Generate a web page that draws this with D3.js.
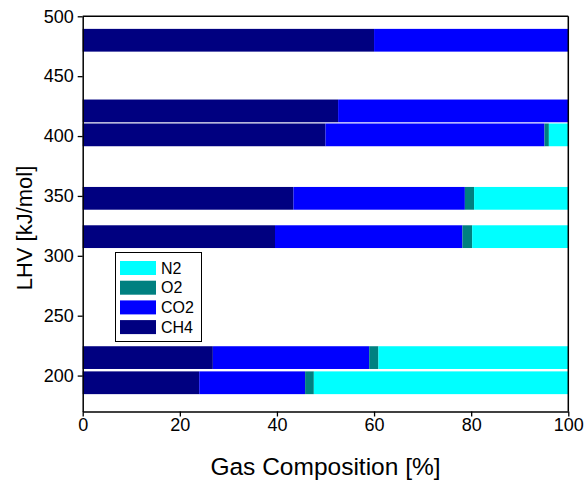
<!DOCTYPE html>
<html>
<head>
<meta charset="utf-8">
<script src="https://cdn.jsdelivr.net/npm/d3@7"></script>
<style>
  html, body { margin: 0; padding: 0; background: #fff; }
  text { font-family: "Liberation Sans", Arial, sans-serif; }
</style>
</head>
<body>
<svg id="chart" width="585" height="483"></svg>
<script>
// ---- data ----
const lhv = [480, 421, 401, 348, 316, 215, 194];
const ch4 = [60.0, 52.6, 50.0, 43.4, 39.6, 26.8, 24.0];
const co2 = [40.0, 47.4, 45.1, 35.3, 38.6, 32.2, 21.8];
const o2  = [0.0, 0.0, 0.9, 1.9, 2.0, 1.9, 1.8];
const n2  = [0.0, 0.0, 4.0, 19.4, 19.8, 39.1, 52.4];
const gases = ["CH4", "CO2", "O2", "N2"];
const gasColors = ["#000080", "#0000FF", "#008080", "#00FFFF"];
const legendOrder = ["N2", "O2", "CO2", "CH4"];
const xTicks = [0, 20, 40, 60, 80, 100];
const yTicks = [200, 250, 300, 350, 400, 450, 500];
const barThickness = 19; // in LHV units

(function () {
// ---- layout ----
const pLeft = 82.7, pRight = 568.3, pTop = 16.3, pBottom = 411.5;
const svg = d3.select("#chart");
const x = d3.scaleLinear().domain([0, 100]).range([pLeft, pRight]);
const y = d3.scaleLinear().domain([170, 500]).range([pBottom, pTop]);
const color = d3.scaleOrdinal().domain(gases).range(gasColors);

const rows = lhv.map((v, i) => ({ lhv: v, CH4: ch4[i], CO2: co2[i], O2: o2[i], N2: n2[i] }));
const stacked = d3.stack().keys(gases)(rows);

// bars
const g = svg.append("g");
stacked.forEach(layer => {
  g.selectAll(null).data(layer).enter().append("rect")
    .attr("x", d => x(d[0]))
    .attr("width", d => Math.max(0, x(d[1]) - x(d[0])))
    .attr("y", d => y(d.data.lhv + barThickness / 2))
    .attr("height", d => y(d.data.lhv - barThickness / 2) - y(d.data.lhv + barThickness / 2))
    .attr("fill", color(layer.key));
});

// axes
const xAxis = d3.axisBottom(x).tickValues(xTicks).tickSize(5).tickPadding(2).tickSizeOuter(0);
const yAxis = d3.axisLeft(y).tickValues(yTicks).tickSize(5).tickPadding(4).tickSizeOuter(0);

const gx = svg.append("g").attr("transform", `translate(0,${pBottom})`).call(xAxis);
const gy = svg.append("g").attr("transform", `translate(${pLeft},0)`).call(yAxis);
[gx, gy].forEach(a => {
  a.selectAll("path").attr("stroke", "#000").attr("stroke-width", 1.5);
  a.selectAll("line").attr("stroke", "#000").attr("stroke-width", 1.3);
  a.selectAll("text").attr("font-size", 18).attr("fill", "#000")
    .style("font-family", '"Liberation Sans", Arial, sans-serif');
});

// frame top/right
svg.append("line").attr("x1", pLeft).attr("x2", pRight).attr("y1", pTop).attr("y2", pTop)
  .attr("stroke", "#000").attr("stroke-width", 1.5);
svg.append("line").attr("x1", pRight).attr("x2", pRight).attr("y1", pTop).attr("y2", pBottom)
  .attr("stroke", "#000").attr("stroke-width", 1.5);

// axis titles
svg.append("text").attr("x", (pLeft + pRight) / 2).attr("y", 475)
  .attr("text-anchor", "middle").attr("font-size", 24.5).text("Gas Composition [%]");
svg.append("text").attr("transform", `translate(32,228) rotate(-90)`)
  .attr("text-anchor", "middle").attr("font-size", 22).text("LHV [kJ/mol]");

// legend
const lg = svg.append("g");
lg.append("rect").attr("x", 115.5).attr("y", 252.5).attr("width", 86).attr("height", 89)
  .attr("fill", "#fff").attr("stroke", "#000").attr("stroke-width", 1);
legendOrder.forEach((k, i) => {
  const cy = 268 + i * 19.7;
  lg.append("rect").attr("x", 120).attr("y", cy - 7).attr("width", 36).attr("height", 14)
    .attr("fill", color(k));
  lg.append("text").attr("x", 161).attr("y", cy).attr("dy", "0.36em")
    .attr("font-size", 16).text(k);
});
})();
</script>
</body>
</html>
